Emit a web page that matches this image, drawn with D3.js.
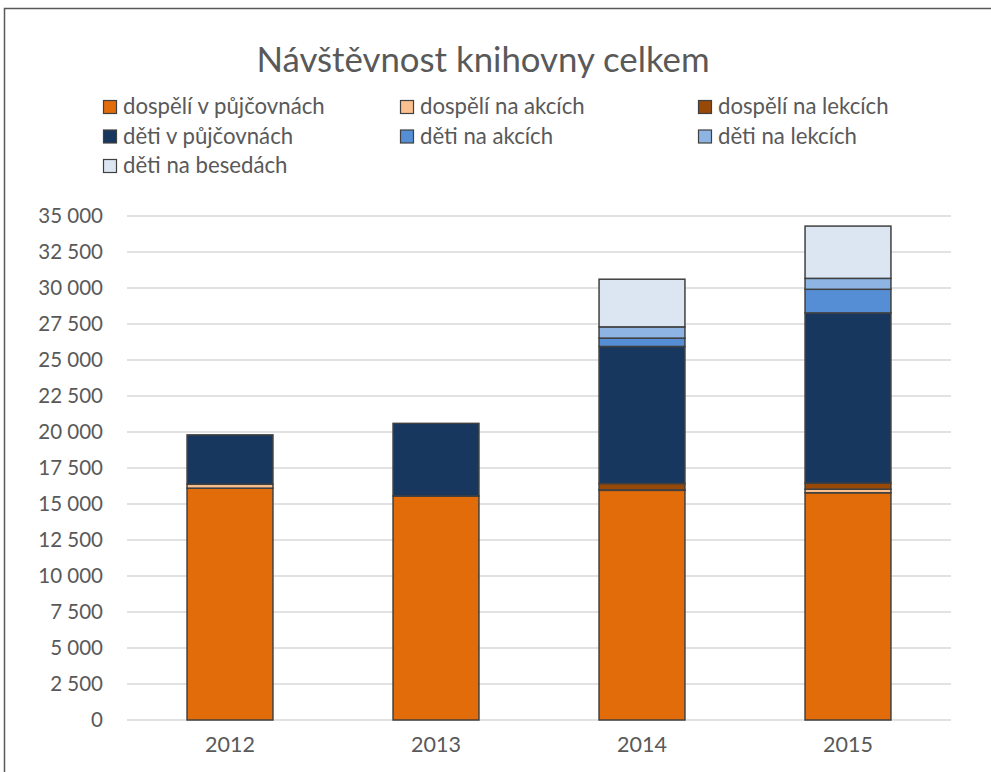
<!DOCTYPE html>
<html>
<head>
<meta charset="utf-8">
<script src="https://cdn.jsdelivr.net/npm/d3@7"></script>
<style>
  html, body { margin: 0; padding: 0; background: #fff; }
  svg { display: block; font-family: Lato, "Open Sans", sans-serif; }
</style>
</head>
<body>
<svg id="chart" width="991" height="772"></svg>
<script>
const years = ["2012", "2013", "2014", "2015"];
const seriesNames = ["dospělí v půjčovnách", "dospělí na akcích", "dospělí na lekcích",
  "děti v půjčovnách", "děti na akcích", "děti na lekcích", "děti na besedách"];
const seriesColors = ["#E36C0A", "#FAC090", "#984807", "#17375E", "#558ED5", "#8EB4E3", "#DCE6F2"];
const dospeliPujcovny = [16100, 15550, 15950, 15780];
const dospeliAkce = [270, 0, 30, 250];
const dospeliLekce = [0, 0, 440, 420];
const detiPujcovny = [3430, 5050, 9520, 11820];
const detiAkce = [0, 0, 580, 1640];
const detiLekce = [0, 0, 780, 760];
const detiBesedy = [0, 0, 3310, 3630];
const yTicks = [0, 2500, 5000, 7500, 10000, 12500, 15000, 17500, 20000, 22500, 25000, 27500, 30000, 32500, 35000];
const titleText = "Návštěvnost knihovny celkem";

const seriesValues = [dospeliPujcovny, dospeliAkce, dospeliLekce, detiPujcovny, detiAkce, detiLekce, detiBesedy];

const svg = d3.select("#chart");
const W = 991, H = 772;
const plot = { left: 127, right: 951, top: 216, bottom: 720 };

// chart frame (extends beyond the visible area on right/bottom)
svg.append("rect").attr("x", 4.5).attr("y", 8.5).attr("width", W + 20).attr("height", H + 20)
  .attr("fill", "#fff").attr("stroke", "#595959").attr("stroke-width", 1.5);

const x = d3.scaleBand().domain(years).range([plot.left, plot.right]).paddingInner(0.583).paddingOuter(0.2915);
const y = d3.scaleLinear().domain([0, 35000]).range([plot.bottom, plot.top]);

const locale = d3.formatLocale({ decimal: ",", thousands: "\u00a0", grouping: [3], currency: ["", " Kč"] });
const fmt = locale.format(",d");

// gridlines
svg.append("g").selectAll("line").data(yTicks).join("line")
  .attr("x1", plot.left).attr("x2", plot.right)
  .attr("y1", d => Math.round(y(d))).attr("y2", d => Math.round(y(d)))
  .attr("stroke", "#d9d9d9").attr("stroke-width", 1.5);

// y axis labels
const yAxis = d3.axisLeft(y).tickValues(yTicks).tickFormat(fmt).tickSize(0).tickPadding(0);
const gy = svg.append("g").attr("transform", `translate(103,0)`).call(yAxis);
gy.select(".domain").remove();
gy.selectAll("text").attr("font-size", 20.5).attr("fill", "#595959").attr("font-family", "Lato, sans-serif");

// x axis labels
const xAxis = d3.axisBottom(x).tickSize(0).tickPadding(0);
const gx = svg.append("g").attr("transform", `translate(0,737)`).call(xAxis);
gx.select(".domain").remove();
gx.selectAll("text").attr("font-size", 21.5).attr("fill", "#595959").attr("font-family", "Lato, sans-serif");

// stacked data
const table = years.map((yr, i) => {
  const row = { year: yr };
  seriesNames.forEach((s, j) => row[s] = seriesValues[j][i]);
  return row;
});
const stack = d3.stack().keys(seriesNames)(table);

const gBars = svg.append("g");
stack.forEach((layer, j) => {
  gBars.append("g").selectAll("rect")
    .data(layer.filter(d => d[1] - d[0] > 0))
    .join("rect")
    .attr("x", d => x(d.data.year))
    .attr("width", x.bandwidth())
    .attr("y", d => y(d[1]))
    .attr("height", d => y(d[0]) - y(d[1]))
    .attr("fill", seriesColors[j])
    .attr("stroke", "#404040")
    .attr("stroke-width", 1.5);
});

// title
svg.append("text").attr("x", 483).attr("y", 72).attr("text-anchor", "middle")
  .attr("font-size", 34.8).attr("fill", "#595959").text(titleText);

// legend
const legCols = [123, 420, 718];
const legRows = [107, 136.5, 166];
const lg = svg.append("g");
seriesNames.forEach((s, i) => {
  const tx = legCols[i % 3], cy = legRows[Math.floor(i / 3)];
  const g = lg.append("g");
  g.append("rect").attr("x", tx - 19.5).attr("y", cy - 6.5).attr("width", 13).attr("height", 13)
    .attr("fill", seriesColors[i]).attr("stroke", "#404040").attr("stroke-width", 1.2);
  g.append("text").attr("x", tx).attr("y", cy + 7).attr("font-size", 22.2)
    .attr("fill", "#595959").text(s);
});
</script>
</body>
</html>
